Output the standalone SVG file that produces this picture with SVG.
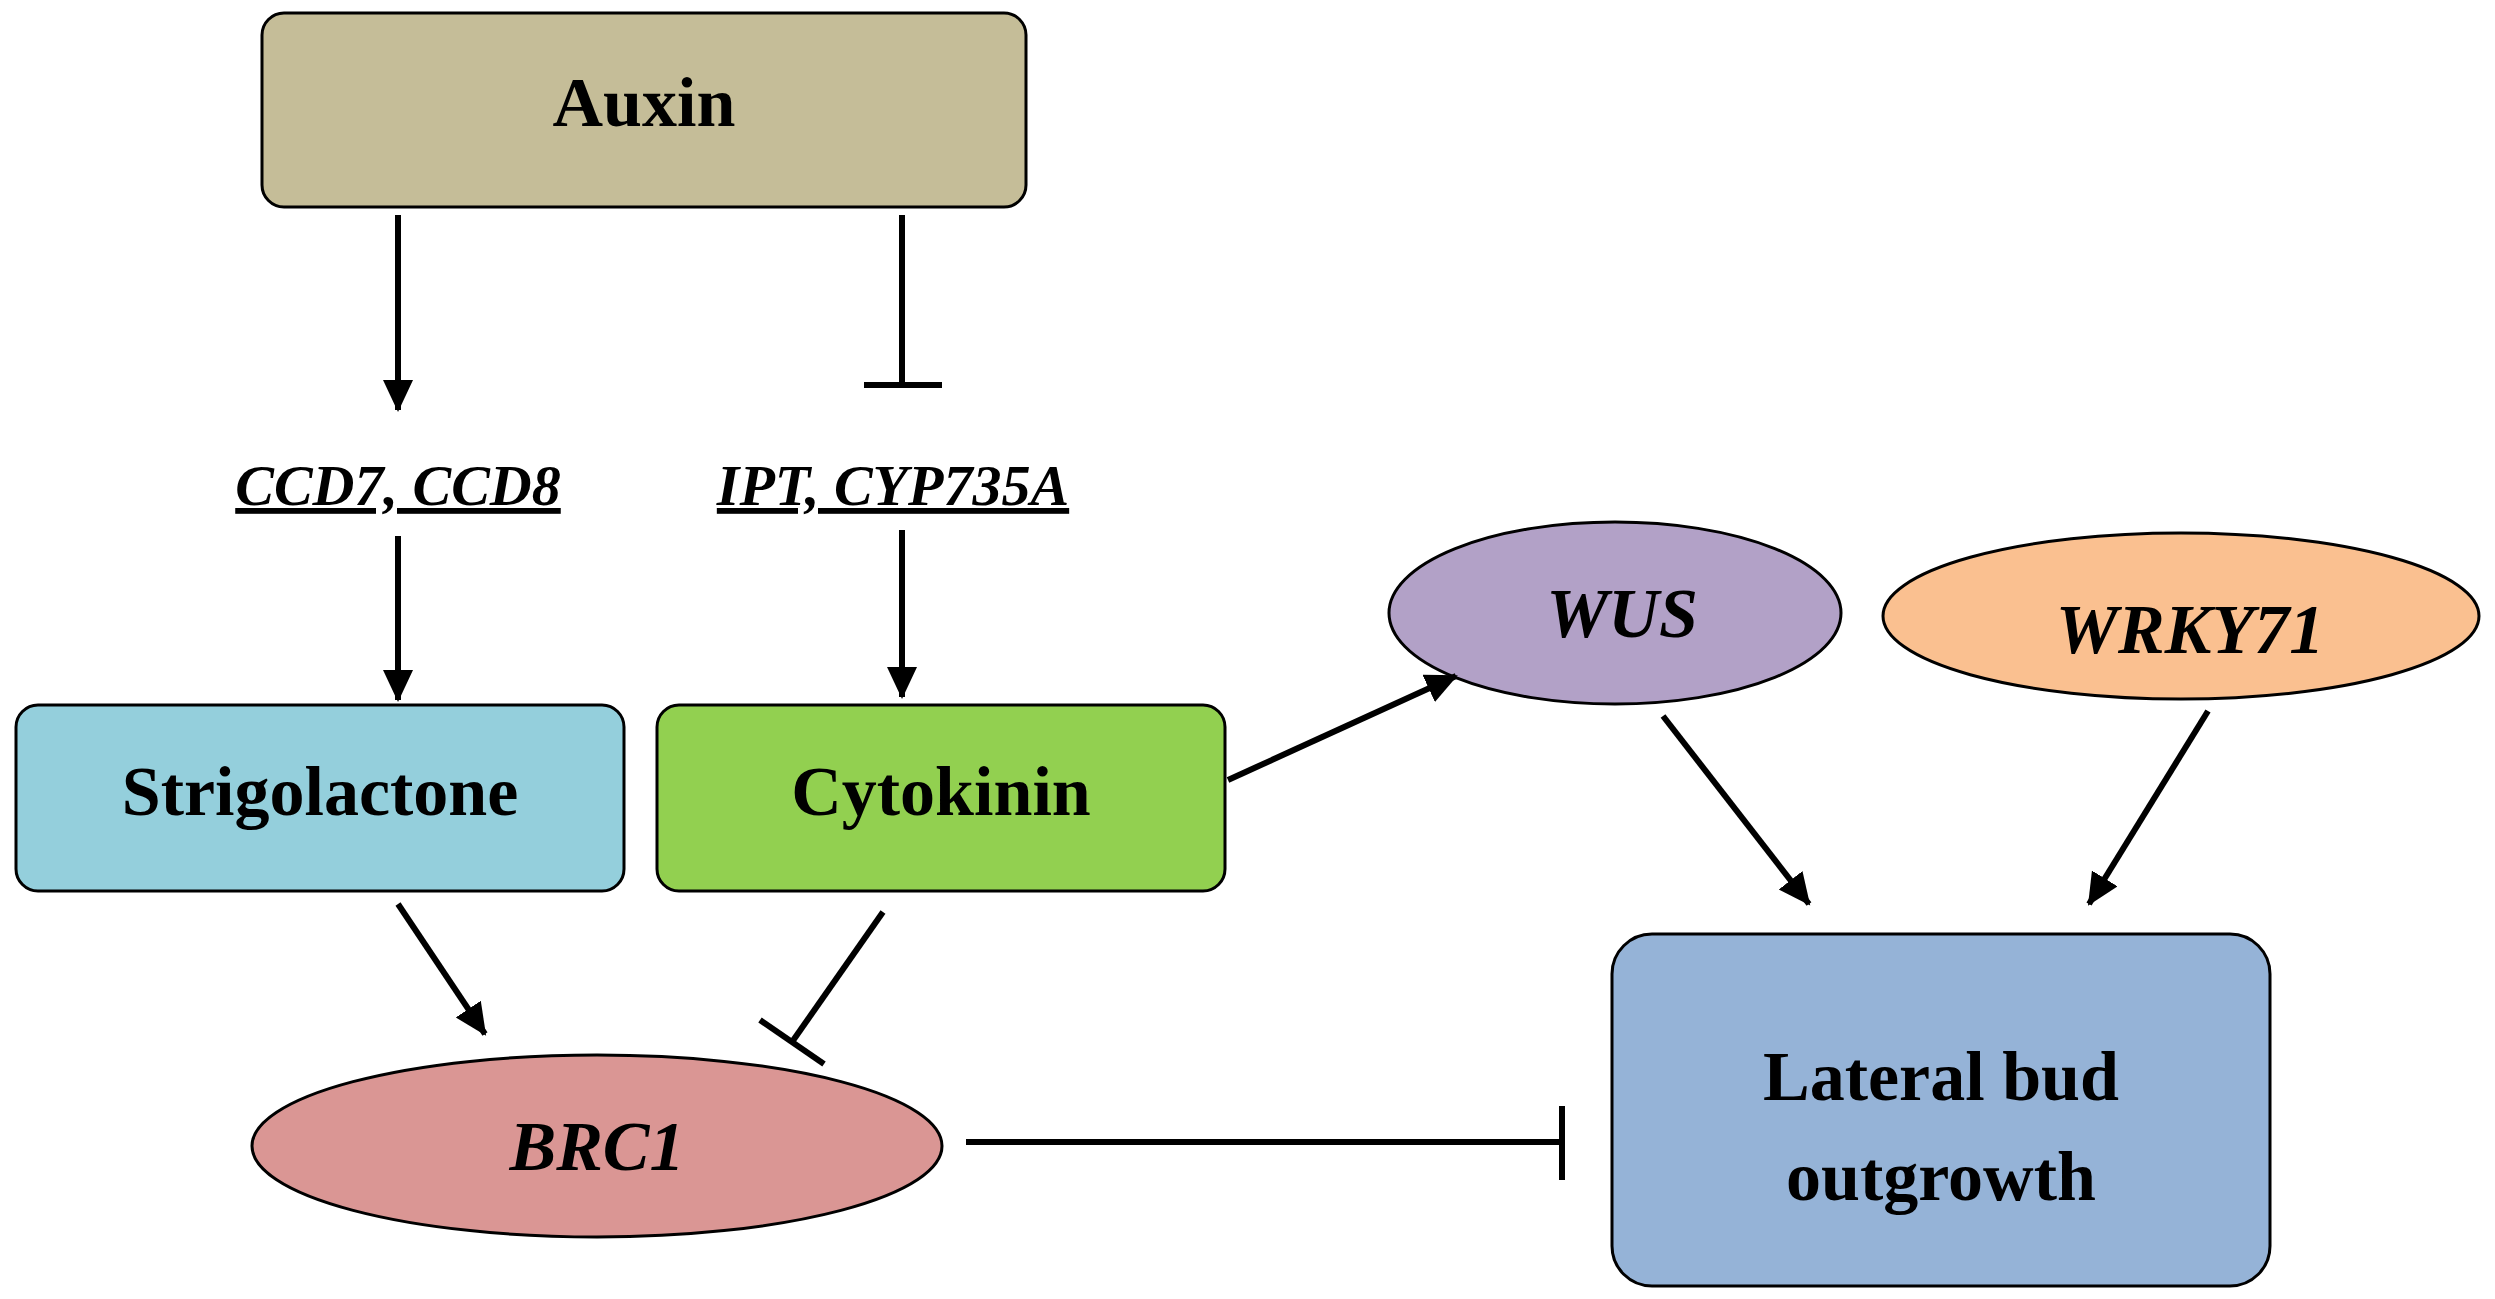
<svg xmlns="http://www.w3.org/2000/svg" width="2495" height="1299" viewBox="0 0 2495 1299">
<defs>
<style>
.box{stroke:#000;stroke-width:3}
.t{font-family:"Liberation Serif",serif;font-weight:bold;text-anchor:middle;fill:#000}
.i{font-style:italic}
.c line{stroke:#000;stroke-width:6}
</style>
<marker id="a" markerUnits="userSpaceOnUse" markerWidth="34" markerHeight="34" refX="30" refY="15" orient="auto"><path d="M0,0 L32,15 L0,30 Z" fill="#000"/></marker>
</defs>
<rect width="2495" height="1299" fill="#fff"/>
<g id="auxin"><rect class="box" x="262" y="13" width="764" height="194" rx="22" fill="#c5bd98"/><text class="t" x="644" y="126" font-size="70">Auxin</text></g>
<g id="ccd"><text class="t i" x="398" y="505" font-size="58" text-decoration="underline">CCD7, CCD8</text></g>
<g id="ipt"><text class="t i" x="893" y="505" font-size="58" text-decoration="underline">IPT, CYP735A</text></g>
<g id="strigolactone"><rect class="box" x="16" y="705" width="608" height="186" rx="22" fill="#94cfdc"/><text class="t" x="320" y="815" font-size="70">Strigolactone</text></g>
<g id="cytokinin"><rect class="box" x="657" y="705" width="568" height="186" rx="22" fill="#92d050"/><text class="t" x="941" y="815" font-size="70">Cytokinin</text></g>
<g id="lateral"><rect class="box" x="1612" y="934" width="658" height="352" rx="40" fill="#95b3d7"/><text class="t" x="1941" y="1100" font-size="70">Lateral bud</text><text class="t" x="1941" y="1200" font-size="70">outgrowth</text></g>
<g id="brc1"><ellipse class="box" cx="597" cy="1146" rx="345" ry="91" fill="#da9694"/><text class="t i" x="597" y="1170" font-size="70">BRC1</text></g>
<g id="wus"><ellipse class="box" cx="1615" cy="613" rx="226" ry="91" fill="#b2a1c7"/><text class="t i" x="1622" y="637" font-size="70">WUS</text></g>
<g id="wrky71"><ellipse class="box" cx="2181" cy="616" rx="298" ry="83" fill="#fac090"/><text class="t i" x="2190" y="653" font-size="70">WRKY71</text></g>
<g class="c" id="connectors">
<line x1="398" y1="215" x2="398" y2="410" marker-end="url(#a)"/>
<line x1="902" y1="215" x2="902" y2="385"/><line x1="864" y1="385" x2="942" y2="385"/>
<line x1="398" y1="536" x2="398" y2="700" marker-end="url(#a)"/>
<line x1="902" y1="530" x2="902" y2="697" marker-end="url(#a)"/>
<line x1="1228" y1="780" x2="1456" y2="676" marker-end="url(#a)"/>
<line x1="398" y1="904" x2="485" y2="1034" marker-end="url(#a)"/>
<line x1="883" y1="912" x2="792" y2="1042"/><line x1="760" y1="1020" x2="824" y2="1064"/>
<line x1="1663" y1="716" x2="1809" y2="904" marker-end="url(#a)"/>
<line x1="2208" y1="711" x2="2089" y2="904" marker-end="url(#a)"/>
<line x1="966" y1="1142" x2="1562" y2="1142"/><line x1="1562" y1="1106" x2="1562" y2="1180"/>
</g>
</svg>
